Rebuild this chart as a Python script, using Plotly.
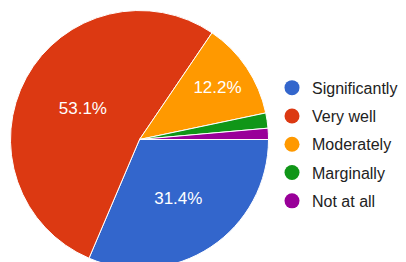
import plotly.graph_objects as go

categories = ["Significantly", "Very well", "Moderately", "Marginally", "Not at all"]
values = [31.4, 53.1, 12.2, 1.9, 1.4]
colors = ["#3366CC", "#DC3912", "#FF9900", "#109618", "#990099"]
show_label = [True, True, True, False, False]

texttemplate = ["%{percent:.1%}" if s else "" for s in show_label]

fig = go.Figure()
fig.add_trace(go.Pie(
    labels=categories,
    values=values,
    sort=False,
    direction="clockwise",
    rotation=90,
    marker=dict(colors=colors, line=dict(color="white", width=1)),
    texttemplate=texttemplate,
    textposition="inside",
    insidetextorientation="horizontal",
    textfont=dict(family="Liberation Sans, Arial", size=17, color="white"),
    showlegend=False,
    hoverinfo="label+percent",
    domain=dict(x=[2.5 / 406, 260.5 / 406], y=[1.5 / 262, 259.5 / 262]),
))

for i, (c, col) in enumerate(zip(categories, colors)):
    fig.add_trace(go.Scatter(
        x=[None], y=[None], mode="markers", name=c,
        marker=dict(color=col, size=15, symbol="circle"),
        legendgroup=c, showlegend=True, hoverinfo="skip",
    ))

fig.update_layout(
    width=406, height=262,
    margin=dict(l=0, r=0, t=0, b=0),
    paper_bgcolor="white", plot_bgcolor="white",
    xaxis=dict(visible=False), yaxis=dict(visible=False),
    legend=dict(
        x=264 / 406, y=0.48, xanchor="left", yanchor="middle",
        font=dict(family="Liberation Sans, Arial", size=16, color="#222222"),
        traceorder="grouped", tracegroupgap=4.5,
        itemsizing="trace", bgcolor="rgba(0,0,0,0)",
    ),
)

fig.write_html("out.html")
